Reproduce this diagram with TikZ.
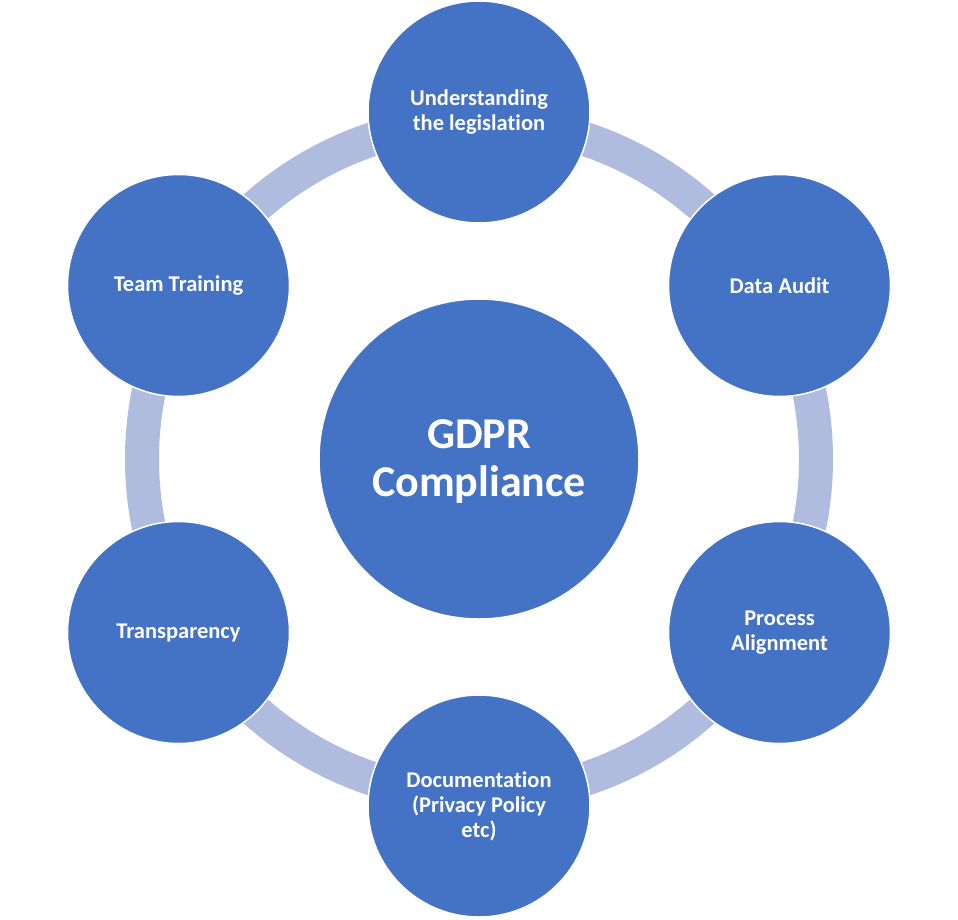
\documentclass[tikz,border=0pt]{standalone}
\usepackage{fontspec}
\setmainfont{Carlito}[Ligatures={NoCommon}]
\definecolor{circfill}{HTML}{4472C4}
\definecolor{ringc}{HTML}{B0BCDF}
\begin{document}
\begin{tikzpicture}[x=1pt,y=-1pt,
  outer/.style={circle,fill=circfill,draw=white,line width=1.5pt,minimum size=222pt,inner sep=0pt,
    text=white,font=\fontsize{22.5}{25}\selectfont\bfseries,align=center},
  centre/.style={circle,fill=circfill,draw=white,line width=1.5pt,minimum size=320pt,inner sep=0pt,
    text=white,font=\fontsize{44}{48}\selectfont\bfseries,align=center},
  ring/.style={draw=ringc,line width=34pt}]
\fill[white] (0,0) rectangle (958,919);
\useasboundingbox (0,0) rectangle (958,919);
\coordinate (o) at (479,459);
\draw[ring] (o) circle (337);
\node[centre] (c) at (o) {};
\node[text=white,font=\fontsize{44}{48}\selectfont\bfseries,align=center] (ct) at (479,462) {GDPR\\Compliance};
\node[outer] (n1) at (479,112) {Understanding\\the legislation};
\node[outer] (n2) at (779.5,285.5) {Data Audit};
\node[outer] (n3) at (779.5,632.5) {Process\\Alignment};
\node[outer] (n4) at (479,806) {Documentation\\(Privacy Policy\\etc)};
\node[outer] (n5) at (178.5,632.5) {Transparency};
\node[outer] (n6) at (178.5,285.5) {Team Training};
\end{tikzpicture}
\end{document}
